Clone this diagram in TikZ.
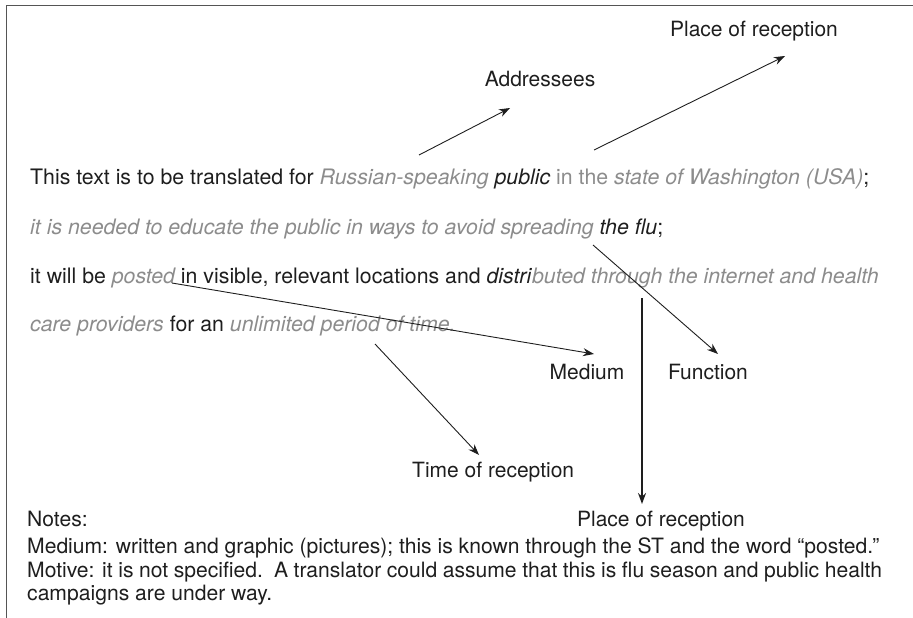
\documentclass[tikz,border=0pt]{standalone}
\usepackage{fontspec}
\setmainfont{TeX Gyre Heros}
\usetikzlibrary{arrows.meta}
\definecolor{ink}{HTML}{1E1E1E}
\definecolor{soft}{HTML}{8C8C8C}
\definecolor{frame}{HTML}{555555}
\newcommand{\gi}[1]{\textcolor{soft}{\itshape #1}}
\newcommand{\gu}[1]{\textcolor{soft}{#1}}
\begin{document}
\begin{tikzpicture}[x=1pt,y=-1pt,
  body/.style={anchor=base west,inner sep=0pt,text=ink,font=\fontsize{21.3}{25}\selectfont},
  label/.style={anchor=base,inner sep=0pt,text=ink,font=\fontsize{21}{25}\selectfont},
  note/.style={anchor=base west,inner sep=0pt,text=ink,font=\fontsize{21.1}{25}\selectfont},
  link/.style={ink,line width=0.9pt,-{Stealth[length=11pt,width=8pt]}},
  thick link/.style={ink,line width=1.8pt,-{Stealth[length=11pt,width=8pt]}}]
\useasboundingbox (0,0) rectangle (913,618);
% frame
\draw[frame,line width=1.6pt] (6.5,618) -- (6.5,5.5) -- (913,5.5);

% the brief
\node[body] (l1) at (30,184) {This text is to be translated for \gi{Russian-speaking} \textit{public} \gu{in the} \gi{state of Washington (USA)};};
\node[body] (l2) at (30,234) {\gi{it is needed to educate the public in ways to avoid spreading} \textit{the flu};};
\node[body] (l3) at (30,283) {it will be \gi{posted} in visible, relevant locations and \textit{distri}\gi{buted through the internet and health}};
\node[body] (l4) at (30,331) {\gi{care providers} for an \gi{unlimited period of time.}};

% labels
\node[label] (place1) at (754,37) {Place of reception};
\node[label] (addr) at (540,87) {Addressees};
\node[label] (medium) at (587,379) {Medium};
\node[label] (function) at (708,379) {Function};
\node[label,anchor=base west] (time) at (412,477) {Time of reception};
\node[label] (place2) at (661,526) {Place of reception};

% notes
\node[note] (notes) at (27,526) {Notes:};
\node[note] (n1) at (27,553) {Medium: written and graphic (pictures); this is known through the ST and the word “posted.”};
\node[note] (n2) at (27,577) {\hbox to 855pt{Motive: it is not specified.\ \ A translator could assume that this is flu season and public health}};
\node[note] (n3) at (27,600) {campaigns are under way.};

% arrow ends
\coordinate (sAddr) at (419,155);
\coordinate (tAddr) at (510,108);
\coordinate (sPlace) at (594,150);
\coordinate (tPlace) at (785,56);
\coordinate (sPost) at (172,283);
\coordinate (tPost) at (594,354);
\coordinate (sFlu) at (593,245);
\coordinate (tFlu) at (718,354);
\coordinate (sTime) at (375,344);
\coordinate (tTime) at (479,455);
\coordinate (sDist) at (642,298);
\coordinate (tDist) at (642,504);

\draw[link] (sAddr) -- (tAddr);
\draw[link] (sPlace) -- (tPlace);
\draw[link] (sPost) -- (tPost);
\draw[link] (sFlu) -- (tFlu);
\draw[link] (sTime) -- (tTime);
\draw[thick link] (sDist) -- (tDist);
\end{tikzpicture}
\end{document}
